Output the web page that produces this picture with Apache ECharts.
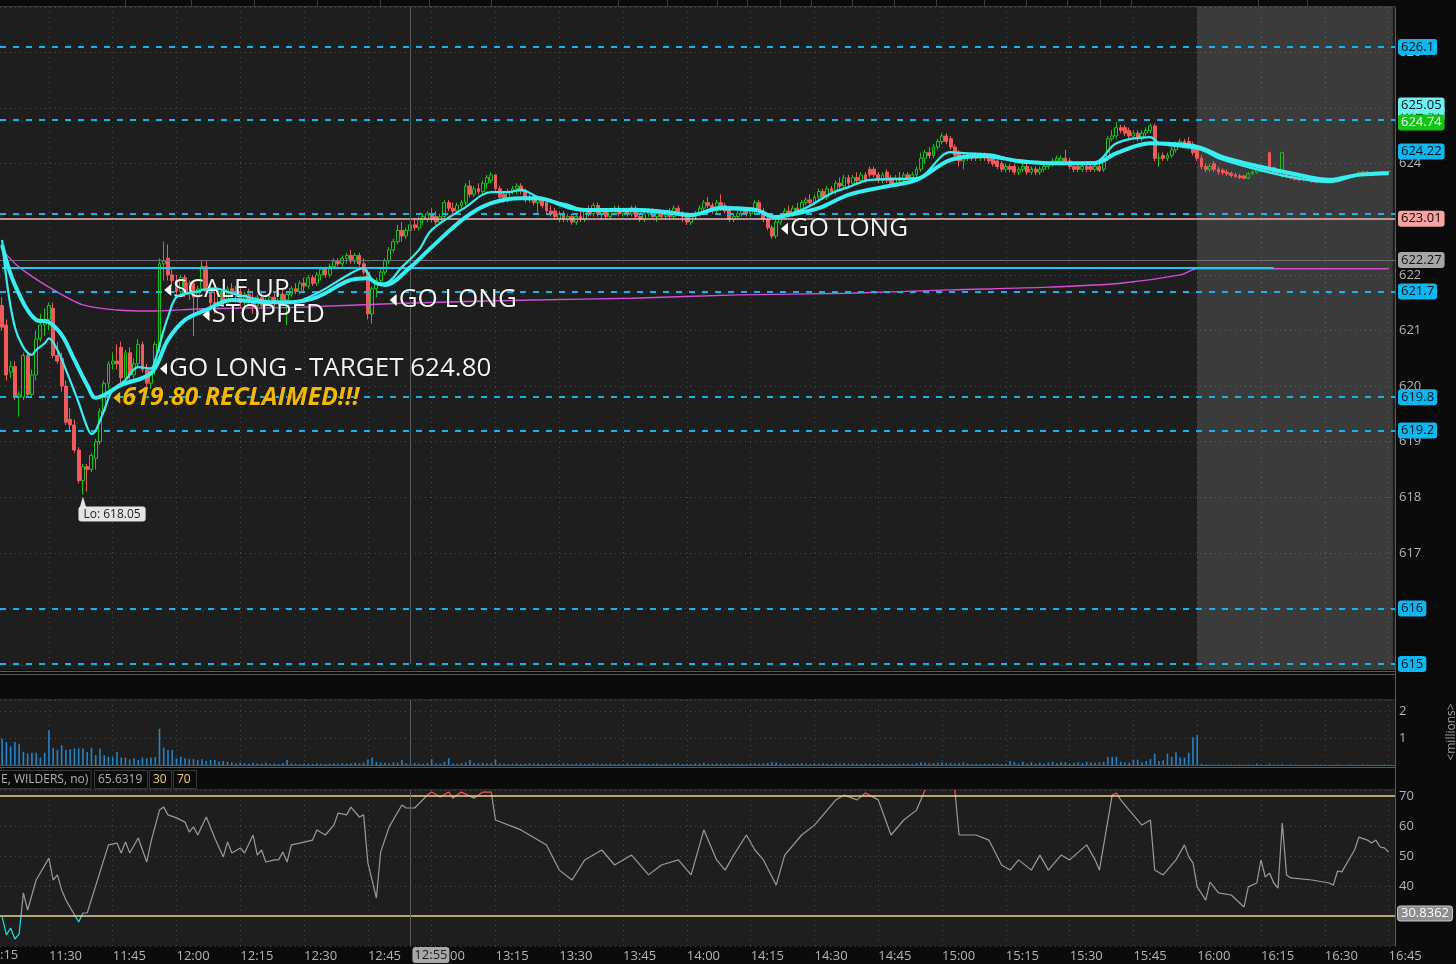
<!DOCTYPE html>
<html><head><meta charset="utf-8">
<script src="https://cdn.jsdelivr.net/npm/echarts@6/dist/echarts.min.js"></script>
<style>html,body{margin:0;padding:0;background:#0b0b0b;}#c{width:1456px;height:964px;}</style>
</head><body><div id="c"></div>
<script>
// ---------- DATA ----------
const categories = [];
for (let m = 11 * 60 + 19; m <= 16 * 60 + 46; m++) {
  categories.push(String(Math.floor(m / 60)).padStart(2, '0') + ':' + String(m % 60).padStart(2, '0'));
}
const opens = [
621.45,621.1,620.25,620.35,619.8,619.8,620.55,619.85,620.2,620.85,
621.1,621.2,621.4,620.55,620.5,620.0,619.4,619.3,618.85,618.3,
618.55,618.5,618.7,619.0,619.55,620.05,620.4,620.45,620.7,620.15,
620.6,620.2,620.4,620.75,620.3,620.05,620.3,620.7,622.2,622.3,
622.0,621.9,621.7,621.95,621.65,621.85,621.6,621.75,622.15,621.7,
621.5,621.45,621.7,621.5,621.75,621.65,621.7,621.5,621.65,621.55,
621.45,621.6,621.45,621.55,621.6,621.5,621.65,621.55,621.65,621.75,
621.7,621.85,621.8,621.95,621.85,622.0,622.1,622.0,622.15,622.25,
622.2,622.3,622.35,622.25,622.35,622.2,622.05,621.3,621.75,621.9,
622.05,622.25,622.45,622.6,622.8,622.7,622.8,622.9,622.85,623.0,
623.0,623.1,623.05,622.95,623.05,623.3,623.2,623.15,623.25,623.3,
623.6,623.45,623.55,623.5,623.65,623.7,623.8,623.55,623.45,623.35,
623.5,623.55,623.6,623.5,623.35,623.4,623.3,623.35,623.3,623.15,
623.15,623.0,623.1,623.0,623.05,622.95,623.05,623.0,623.15,623.1,
623.25,623.1,623.15,623.05,623.15,623.2,623.1,623.15,623.1,623.2,
623.05,623.0,623.1,623.15,623.05,623.1,623.05,623.1,623.05,623.2,
623.1,623.05,622.95,623.05,623.1,623.2,623.3,623.25,623.15,623.3,
623.25,623.2,623.0,623.05,623.1,623.15,623.1,623.15,623.3,623.15,
623.0,622.85,622.7,622.95,623.05,623.15,623.1,623.2,623.15,623.3,
623.35,623.3,623.4,623.5,623.4,623.55,623.5,623.65,623.6,623.75,
623.65,623.75,623.7,623.8,623.9,623.9,623.8,623.7,623.85,623.75,
623.65,623.75,623.7,623.8,623.75,623.8,623.9,624.1,624.2,624.15,
624.3,624.4,624.5,624.45,624.3,624.2,624.05,624.1,624.15,624.15,
624.1,624.15,624.1,624.1,624.05,624.0,623.9,623.95,623.95,623.85,
623.9,623.95,623.85,623.9,623.85,623.9,623.95,624.0,624.05,624.05,
624.1,624.05,623.95,623.95,623.9,623.95,623.95,623.9,623.95,623.9,
624.1,624.45,624.5,624.65,624.65,624.6,624.5,624.55,624.45,624.55,
624.6,624.68,624.1,624.15,624.1,624.15,624.25,624.35,624.4,624.4,
624.35,624.25,624.1,623.95,623.9,624.0,623.9,623.88,623.85,623.83,
623.8,623.78,623.78,623.74,623.82,623.85,623.9,623.92,624.2,623.93,
623.88,623.78,623.82,623.78,623.76,623.74,623.72,623.72,623.72,623.7,
623.68,623.69,623.7,623.7,623.68,623.72,623.73,623.75,623.77,623.8,
623.85,623.85,623.84,623.84,623.85,623.85,623.86];
const highs = [
621.6,621.2,620.45,620.45,619.9,620.6,620.6,620.3,621.0,621.3,
621.4,621.5,621.5,620.8,620.6,620.1,619.6,619.4,618.9,618.6,
618.6,618.8,619.05,619.6,620.1,620.45,620.6,620.75,620.8,620.65,
620.7,620.5,620.85,620.8,620.4,620.35,620.8,622.3,622.6,622.55,
622.1,622.0,622.0,622.0,621.9,621.9,621.8,622.25,622.25,621.85,
621.7,621.75,621.8,621.8,621.85,621.8,621.8,621.7,621.75,621.7,
621.65,621.7,621.6,621.7,621.7,621.7,621.75,621.7,621.8,621.85,
621.9,621.95,622.0,622.0,622.05,622.15,622.15,622.2,622.3,622.3,
622.35,622.4,622.45,622.4,622.4,622.3,622.1,621.8,621.95,622.1,
622.3,622.5,622.65,622.9,622.95,622.85,622.95,623.0,623.05,623.1,
623.15,623.2,623.15,623.1,623.35,623.35,623.3,623.3,623.35,623.65,
623.7,623.6,623.65,623.7,623.8,623.85,623.8,623.6,623.5,623.55,
623.6,623.65,623.65,623.55,623.45,623.45,623.4,623.4,623.35,623.25,
623.2,623.15,623.15,623.1,623.1,623.1,623.15,623.2,623.25,623.3,
623.3,623.2,623.2,623.2,623.25,623.25,623.2,623.2,623.25,623.25,
623.1,623.15,623.2,623.2,623.15,623.15,623.15,623.2,623.25,623.25,
623.15,623.1,623.1,623.15,623.25,623.35,623.4,623.3,623.35,623.45,
623.3,623.25,623.1,623.15,623.2,623.2,623.2,623.35,623.35,623.2,
623.05,622.9,623.0,623.1,623.2,623.25,623.25,623.3,623.35,623.4,
623.45,623.45,623.55,623.55,623.6,623.6,623.7,623.75,623.8,623.8,
623.8,623.85,623.85,623.85,623.95,623.95,623.85,623.85,623.9,623.8,
623.8,623.85,623.85,623.85,623.85,623.95,624.2,624.25,624.3,624.35,
624.45,624.55,624.55,624.5,624.35,624.25,624.2,624.2,624.2,624.2,
624.2,624.2,624.15,624.15,624.1,624.05,624.0,624.0,624.0,623.95,
624.0,624.0,623.95,623.95,623.95,624.0,624.05,624.1,624.15,624.15,
624.25,624.1,624.0,624.0,624.0,624.0,624.0,624.0,624.0,624.15,
624.5,624.6,624.75,624.7,624.7,624.65,624.6,624.6,624.6,624.65,
624.72,624.72,624.2,624.2,624.2,624.3,624.4,624.45,624.45,624.48,
624.4,624.3,624.15,624.0,624.0,624.05,623.95,623.92,623.9,623.86,
623.84,623.82,623.8,623.85,623.88,623.92,623.95,623.96,624.22,623.95,
623.9,624.22,623.86,623.8,623.78,623.76,623.74,623.74,623.74,623.72,
623.72,623.72,623.73,623.72,623.74,623.75,623.77,623.78,623.8,623.86,
623.87,623.87,623.86,623.86,623.86,623.87,623.87];
const lows = [
621.0,620.1,620.15,619.75,619.45,619.75,619.8,619.8,620.1,620.8,
620.9,621.0,620.5,620.4,619.9,619.3,619.2,618.8,618.25,618.05,
618.1,618.45,618.5,618.95,619.5,619.95,620.3,620.3,620.05,620.1,
620.1,620.1,620.35,620.25,619.95,619.95,620.2,620.6,621.9,621.9,
621.8,621.6,621.65,621.6,621.55,620.9,621.3,621.7,621.6,621.4,
621.3,621.4,621.45,621.45,621.6,621.5,621.4,621.35,621.45,621.3,
621.4,621.4,621.25,621.45,621.4,621.45,621.5,621.1,621.6,621.65,
621.65,621.7,621.75,621.8,621.8,621.9,621.95,621.95,622.1,622.15,
622.15,622.2,622.2,622.2,622.15,622.0,621.2,621.12,621.6,621.85,
622.0,622.2,622.4,622.55,622.6,622.65,622.75,622.8,622.8,622.9,
622.95,622.95,622.9,622.9,623.0,623.15,623.1,623.1,623.2,623.25,
623.4,623.4,623.45,623.45,623.55,623.65,623.5,623.35,623.3,623.3,
623.45,623.45,623.45,623.3,623.3,623.25,623.1,623.2,623.1,623.05,
623.0,622.95,622.95,622.95,622.9,622.9,622.95,622.95,623.05,623.05,
623.05,623.0,623.0,623.0,623.1,623.05,623.05,623.05,623.05,623.0,
622.95,622.95,623.05,623.0,622.95,623.0,623.0,623.0,623.0,623.05,
622.95,622.9,622.9,623.0,623.05,623.15,623.2,623.1,623.1,623.15,
623.1,622.95,622.95,623.0,623.05,623.05,623.05,623.1,623.1,622.95,
622.8,622.65,622.65,622.9,623.0,623.05,623.05,623.1,623.1,623.25,
623.25,623.25,623.35,623.35,623.35,623.45,623.45,623.55,623.55,623.6,
623.6,623.65,623.65,623.65,623.75,623.75,623.65,623.65,623.65,623.6,
623.6,623.65,623.65,623.7,623.7,623.75,623.85,624.0,624.1,624.1,
624.25,624.35,624.35,624.25,624.1,623.95,623.9,624.05,624.05,624.05,
624.05,624.05,624.0,623.95,623.9,623.85,623.85,623.85,623.8,623.8,
623.85,623.8,623.8,623.8,623.8,623.85,623.9,623.95,624.0,624.0,
624.0,623.9,623.85,623.85,623.85,623.85,623.85,623.85,623.85,623.85,
624.05,624.4,624.45,624.55,624.5,624.45,624.45,624.4,624.4,624.5,
624.55,624.05,623.95,624.05,624.05,624.1,624.2,624.3,624.3,624.3,
624.15,624.05,623.9,623.85,623.85,623.85,623.8,623.8,623.78,623.75,
623.74,623.72,623.72,623.72,623.8,623.82,623.85,623.87,623.9,623.82,
623.8,623.75,623.74,623.72,623.7,623.68,623.68,623.69,623.66,623.65,
623.66,623.67,623.68,623.65,623.66,623.7,623.72,623.74,623.75,623.78,
623.82,623.82,623.82,623.83,623.83,623.84,623.84];
const closes = [
621.06,620.2,620.35,619.8,619.85,620.55,619.85,620.2,620.85,621.1,
621.2,621.45,620.55,620.45,620.0,619.35,619.3,618.85,618.3,618.55,
618.5,618.75,619.0,619.55,620.05,620.4,620.45,620.4,620.15,620.6,
620.2,620.4,620.75,620.3,620.05,620.3,620.75,622.2,622.25,622.0,
621.9,621.7,621.95,621.65,621.85,621.6,621.75,622.15,621.7,621.5,
621.45,621.7,621.5,621.75,621.65,621.7,621.5,621.65,621.55,621.45,
621.6,621.45,621.55,621.6,621.5,621.65,621.55,621.65,621.75,621.7,
621.85,621.8,621.95,621.85,622.0,622.1,622.0,622.15,622.25,622.2,
622.3,622.35,622.25,622.35,622.2,622.05,621.3,621.75,621.9,622.05,
622.25,622.45,622.6,622.8,622.7,622.8,622.9,622.85,623.0,623.05,
623.1,623.0,622.95,623.05,623.3,623.2,623.15,623.25,623.3,623.6,
623.45,623.55,623.5,623.65,623.75,623.8,623.55,623.4,623.35,623.5,
623.55,623.6,623.5,623.35,623.4,623.3,623.35,623.25,623.15,623.1,
623.05,623.1,623.0,623.05,622.95,623.05,623.0,623.15,623.1,623.25,
623.1,623.15,623.05,623.15,623.2,623.1,623.15,623.1,623.2,623.05,
623.0,623.1,623.15,623.05,623.1,623.05,623.1,623.05,623.2,623.1,
623.05,622.95,623.05,623.1,623.2,623.3,623.25,623.15,623.3,623.2,
623.15,623.0,623.05,623.1,623.15,623.1,623.15,623.3,623.15,623.0,
622.85,622.7,622.95,623.05,623.15,623.1,623.2,623.15,623.3,623.35,
623.3,623.4,623.5,623.4,623.55,623.5,623.65,623.6,623.75,623.65,
623.75,623.7,623.8,623.7,623.8,623.8,623.7,623.8,623.7,623.65,
623.75,623.7,623.8,623.75,623.8,623.9,624.1,624.2,624.15,624.3,
624.4,624.5,624.4,624.3,624.15,624.05,624.1,624.15,624.1,624.1,
624.15,624.1,624.05,624.0,623.95,623.9,623.95,623.9,623.85,623.9,
623.95,623.85,623.9,623.85,623.9,623.95,624.0,624.05,624.1,624.1,
624.05,623.95,623.9,623.9,623.95,623.9,623.9,623.95,623.88,624.1,
624.45,624.5,624.65,624.6,624.55,624.5,624.55,624.45,624.55,624.6,
624.68,624.1,624.1,624.1,624.15,624.25,624.35,624.4,624.35,624.35,
624.2,624.1,623.95,623.9,623.95,623.9,623.85,623.84,623.82,623.79,
623.77,623.75,623.74,623.82,623.85,623.9,623.92,623.9,623.93,623.85,
623.84,624.2,623.78,623.75,623.72,623.71,623.72,623.72,623.68,623.67,
623.7,623.71,623.72,623.67,623.72,623.73,623.76,623.77,623.79,623.85,
623.84,623.83,623.84,623.85,623.85,623.86,623.86];
const volumes = [
0.99,0.86,0.70,0.86,0.78,0.49,0.43,0.46,0.46,0.28,
0.46,1.30,0.65,0.56,0.74,0.56,0.59,0.62,0.62,0.62,
0.49,0.65,0.37,0.62,0.37,0.31,0.31,0.49,0.28,0.28,
0.21,0.25,0.19,0.28,0.25,0.28,0.30,1.36,0.65,0.56,
0.56,0.25,0.31,0.25,0.22,0.22,0.19,0.22,0.16,0.19,
0.19,0.13,0.15,0.12,0.10,0.06,0.09,0.07,0.05,0.08,
0.06,0.05,0.08,0.05,0.06,0.04,0.07,0.19,0.06,0.05,
0.04,0.06,0.05,0.04,0.07,0.05,0.04,0.05,0.06,0.05,
0.07,0.05,0.06,0.08,0.06,0.09,0.21,0.28,0.12,0.09,
0.08,0.07,0.10,0.09,0.19,0.07,0.06,0.08,0.06,0.05,
0.07,0.22,0.06,0.05,0.12,0.25,0.06,0.05,0.07,0.10,
0.19,0.07,0.06,0.08,0.06,0.07,0.21,0.06,0.05,0.04,
0.05,0.06,0.04,0.05,0.07,0.05,0.06,0.04,0.05,0.06,
0.05,0.04,0.06,0.05,0.04,0.05,0.06,0.04,0.05,0.07,
0.05,0.04,0.05,0.06,0.04,0.05,0.04,0.06,0.05,0.04,
0.06,0.05,0.04,0.05,0.06,0.04,0.05,0.04,0.07,0.05,
0.04,0.05,0.04,0.06,0.05,0.08,0.05,0.04,0.06,0.05,
0.04,0.06,0.05,0.04,0.05,0.04,0.06,0.07,0.05,0.06,
0.08,0.10,0.09,0.06,0.05,0.04,0.06,0.05,0.07,0.05,
0.04,0.06,0.05,0.07,0.05,0.04,0.06,0.05,0.07,0.05,
0.06,0.05,0.04,0.06,0.05,0.04,0.05,0.06,0.04,0.05,
0.04,0.05,0.06,0.05,0.04,0.07,0.10,0.08,0.06,0.07,
0.08,0.10,0.07,0.08,0.06,0.07,0.09,0.05,0.04,0.05,
0.04,0.05,0.04,0.06,0.05,0.04,0.05,0.15,0.12,0.05,
0.12,0.06,0.10,0.05,0.08,0.06,0.10,0.12,0.07,0.10,
0.11,0.06,0.08,0.10,0.07,0.12,0.09,0.08,0.10,0.12,
0.31,0.31,0.31,0.12,0.10,0.08,0.20,0.20,0.10,0.15,
0.22,0.43,0.15,0.18,0.43,0.31,0.49,0.28,0.28,0.46,
1.04,1.13,0.04,0.02,0.02,0.01,0.02,0.01,0.01,0.02,
0.01,0.02,0.01,0.02,0.01,0.05,0.02,0.01,0.05,0.02,
0.01,0.03,0.01,0.02,0.01,0.01,0.01,0.01,0.01,0.02,
0.01,0.01,0.01,0.01,0.02,0.01,0.01,0.02,0.01,0.01,
0.02,0.01,0.01,0.01,0.01,0.02,0.01];

const fastTimes = ['11:19','11:22','11:26','11:27','11:29','11:30','11:32','11:34','11:37','11:39','11:40','11:41','11:43','11:45','11:48','11:51','11:54','11:55','11:57','11:58','12:00','12:04','12:09','12:13','12:18','12:23','12:27','12:33','12:41','12:44','12:45','12:47','12:49','12:53','12:57','13:00','13:08','13:14','13:18','13:21','13:25','13:32','13:36','13:47','13:55','14:01','14:08','14:16','14:20','14:27','14:34','14:38','14:43','14:54','15:02','15:05','15:12','15:18','15:25','15:36','15:41','15:49','15:51','15:57','16:01','16:05','16:12','16:22','16:31','16:38','16:45'];
const fastValues = [622.63,621.06,620.56,620.65,620.77,620.86,620.65,620.29,619.70,619.26,619.14,619.20,619.57,619.93,620.11,620.34,620.32,620.47,621.01,621.24,621.60,621.69,621.76,621.67,621.58,621.51,621.51,621.67,622.03,622.12,622.03,621.85,621.85,622.14,622.45,622.81,623.22,623.49,623.49,623.53,623.40,623.26,623.17,623.19,623.15,623.08,623.22,623.19,623.04,623.17,623.47,623.58,623.71,623.74,624.21,624.19,624.16,624.03,624.01,624.03,624.37,624.48,624.37,624.30,624.25,624.10,623.94,623.76,623.67,623.80,623.83];
const slowTimes = ['11:19','11:22','11:27','11:30','11:33','11:36','11:39','11:41','11:43','11:47','11:54','11:58','12:02','12:07','12:13','12:21','12:27','12:33','12:41','12:45','12:47','12:49','12:55','13:00','13:08','13:14','13:21','13:25','13:32','13:36','13:47','13:55','14:01','14:08','14:16','14:21','14:24','14:31','14:38','14:46','14:54','15:02','15:10','15:18','15:25','15:36','15:41','15:49','15:57','16:01','16:06','16:14','16:22','16:31','16:38','16:45'];
const slowValues = [622.54,621.82,621.19,621.15,620.92,620.47,620.02,619.79,619.84,620.02,620.23,620.83,621.19,621.37,621.55,621.51,621.51,621.60,621.91,621.94,621.85,621.82,622.14,622.50,623.04,623.29,623.38,623.38,623.22,623.17,623.17,623.13,623.08,623.20,623.17,623.04,623.08,623.20,623.44,623.58,623.71,624.07,624.14,624.05,624.01,624.01,624.19,624.37,624.34,624.28,624.12,623.96,623.83,623.71,623.80,623.83];
const vwapTimes = ['11:19','11:23','11:30','11:38','11:46','11:54','12:06','12:29','12:53','13:24','13:47','14:12','14:38','15:02','15:25','15:42','15:56','16:00','16:45'];
const vwapValues = [622.45,622.14,621.78,621.46,621.37,621.35,621.39,621.42,621.49,621.55,621.58,621.64,621.67,621.73,621.78,621.85,622.00,622.11,622.11];

const rsiTimes = ['11:19','11:20','11:21','11:22','11:23','11:24','11:25','11:27','11:30','11:31','11:32','11:33','11:34','11:37','11:38','11:39','11:44','11:46','11:47','11:48','11:49','11:51','11:53','11:54','11:56','11:57','11:58','12:00','12:02','12:03','12:04','12:05','12:07','12:09','12:11','12:12','12:13','12:15','12:16','12:18','12:19','12:20','12:21','12:23','12:24','12:25','12:26','12:27','12:29','12:32','12:33','12:35','12:37','12:38','12:40','12:41','12:43','12:44','12:45','12:47','12:48','12:50','12:53','12:54','12:56','12:59','13:00','13:02','13:04','13:05','13:07','13:10','13:12','13:14','13:15','13:21','13:27','13:30','13:33','13:36','13:40','13:43','13:47','13:51','13:54','13:58','14:01','14:04','14:07','14:09','14:11','14:14','14:16','14:18','14:21','14:23','14:27','14:30','14:33','14:35','14:37','14:40','14:42','14:45','14:48','14:51','14:54','14:56','15:00','15:03','15:04','15:08','15:11','15:14','15:16','15:18','15:21','15:23','15:25','15:28','15:30','15:34','15:36','15:37','15:40','15:41','15:42','15:44','15:47','15:49','15:50','15:52','15:55','15:57','15:58','15:59','16:00','16:02','16:03','16:05','16:08','16:11','16:12','16:14','16:15','16:16','16:17','16:18','16:19','16:20','16:21','16:22','16:27','16:31','16:32','16:33','16:34','16:37','16:38','16:40','16:41','16:42','16:43','16:44','16:45'];
const rsiValues = [29.7,23.7,26.0,22.3,24.0,37.7,32.0,42.0,49.3,42.0,43.7,38.7,35.3,28.0,31.0,31.0,53.7,54.3,51.0,54.7,51.0,56.0,48.0,54.7,65.3,66.3,63.7,62.7,61.3,58.0,59.7,57.0,63.0,56.0,49.7,54.7,51.0,52.7,51.0,57.0,50.3,52.0,48.0,48.7,48.7,51.3,48.0,53.7,54.3,55.3,58.7,57.0,60.3,64.3,63.7,66.3,63.0,63.7,47.7,36.0,51.3,59.7,67.0,66.0,66.0,70.3,71.3,69.7,71.3,69.3,71.3,69.3,71.3,71.3,62.0,58.7,53.7,45.3,42.0,48.7,52.0,47.0,50.3,43.7,47.0,48.7,43.7,58.7,48.7,45.3,50.3,57.0,52.0,48.7,40.3,50.3,57.0,60.3,65.3,68.7,70.3,68.7,71.0,68.7,57.0,62.0,65.3,72.0,74.0,72.0,57.0,57.0,55.3,47.0,45.3,48.7,45.3,50.3,45.3,50.3,48.7,53.7,48.7,45.3,70.3,71.0,68.7,65.3,60.3,62.0,45.3,43.7,48.7,53.7,49.7,47.7,39.7,35.3,41.3,37.7,37.0,33.0,39.7,41.0,48.7,43.0,44.3,41.0,39.3,61.0,43.7,42.7,42.0,41.0,40.3,45.0,44.7,52.0,56.3,55.3,54.3,55.3,53.0,52.7,51.3];
const rsiLast = 30.8362;

const priceTicks = {min: 615, max: 626.82, step: 1};
const dashedLevels = [626.1, 624.8, 623.1, 621.7, 619.8, 619.2, 616, 615];
const dashedLabeled = [true, false, false, true, true, true, true, true];
const pinkLevel = 623.01, grayLevel = 622.27, cyanLevel = 622.12;
const cyanLevelEnd = '16:18';
const tagValues = [624.91, 625.05, 624.74, 624.22];
const noteTimes = ['14:22', '12:50', '11:57', '12:06', '11:56', '11:45'];
const notePrices = [622.83, 621.55, 621.73, 621.28, 620.31, 619.79];
const noteTexts = ['GO LONG', 'GO LONG', 'SCALE UP', 'STOPPED', 'GO LONG - TARGET 624.80', '619.80 RECLAIMED!!!'];
const lowTime = '11:38', lowPrice = 618.05;
const crossTime = '12:55';
const afterHoursStart = '16:00', axisEnd = '16:46';
const rsiHeader = ['E, WILDERS, no)', '65.6319', '30', '70'];

// ---------- CHART ----------
const FONT = '"Open Sans", "Noto Sans", sans-serif';
const chart = echarts.init(document.getElementById('c'), null, {renderer: 'canvas'});
const candleData = opens.map((o, i) => [o, closes[i], lows[i], highs[i]]);
const pair = (ts, vs) => ts.map((t, i) => [t, vs[i]]);
const qFn = (i, v) => /:(00|15|30|45)$/.test(v);
const GRID_RIGHT = 61;
const CLEAR = 'rgba(0,0,0,0)';

function xAxisCfg(g, showLabel) {
  return {
    type: 'category', gridIndex: g, data: categories, boundaryGap: true,
    axisLine: {show: false}, axisTick: {show: false},
    axisLabel: showLabel ? {show: true, interval: qFn, color: '#b4b4b4', fontSize: 13, fontFamily: FONT, align: 'left', margin: 4} : {show: false},
    splitLine: {show: true, interval: qFn, alignWithLabel: true, lineStyle: {color: '#4a4a4a', type: [1, 4], width: 1}}
  };
}
function yAxisCfg(g, min, max, interval) {
  return {
    type: 'value', gridIndex: g, position: 'right', min: min, max: max, interval: interval, scale: true,
    axisLine: {show: true, lineStyle: {color: '#5a5a5a'}}, axisTick: {show: false},
    axisLabel: {color: '#b4b4b4', fontSize: 13, fontFamily: FONT, margin: 4, showMaxLabel: false, showMinLabel: g === 0},
    splitLine: {show: true, lineStyle: {color: '#4a4a4a', type: [1, 4], width: 1}}
  };
}
const tagLabel = (bg, fg) => ({show: true, position: 'end', distance: 3, formatter: '{b}', backgroundColor: bg, color: fg,
  padding: [2, 3, 1, 3], borderRadius: 3, fontSize: 13, fontFamily: FONT});

const mlData = [];
dashedLevels.forEach((v, i) => mlData.push({name: String(v), yAxis: v,
  lineStyle: {type: [6, 7], width: 2, color: '#12b6ee'},
  label: dashedLabeled[i] ? tagLabel('#12b6ee', '#00121c') : {show: false}}));
mlData.push({name: String(pinkLevel), yAxis: pinkLevel, lineStyle: {type: 'solid', width: 1.5, color: '#f0b4b4'}, label: tagLabel('#f5a4a4', '#1a0000')});
mlData.push({name: String(grayLevel), yAxis: grayLevel, lineStyle: {type: 'solid', width: 1, color: '#6e6e6e'}, label: tagLabel('#a6a6a6', '#111')});
const tagStyles = [['#7ef4f4', '#00181c'], ['#6ff0f0', '#00181c'], ['#14c414', '#ffffff'], ['#12b6ee', '#00121c']];
tagValues.forEach((v, i) => mlData.push({name: String(v), yAxis: v, lineStyle: {color: CLEAR, width: 1, type: 'solid'},
  label: tagLabel(tagStyles[i][0], tagStyles[i][1])}));
mlData.push([{coord: [categories[0], cyanLevel], lineStyle: {type: 'solid', width: 2, color: '#1ec8f0'}, label: {show: false}},
             {coord: [cyanLevelEnd, cyanLevel]}]);
mlData.push({xAxis: crossTime, lineStyle: {type: 'solid', width: 1, color: '#5c5c5c'}, label: {show: false}});

const noteData = noteTimes.map((t, i) => {
  const special = i === 5;
  return {
    coord: [t, notePrices[i]],
    symbol: 'triangle', symbolRotate: 90, symbolSize: [12, 7], symbolOffset: [4, 0],
    itemStyle: {color: special ? '#f2b705' : '#ffffff'},
    label: {show: true, position: 'right', distance: 2, formatter: noteTexts[i],
      color: special ? '#f2b705' : '#f4f4f4', fontSize: special ? 25 : 26,
      fontWeight: special ? 'bold' : 'normal', fontStyle: special ? 'italic' : 'normal',
      fontFamily: FONT, textBorderColor: 'rgba(0,0,0,0.55)', textBorderWidth: 1}
  };
});
noteData.push({coord: [lowTime, lowPrice], symbol: 'triangle', symbolSize: [7, 12], symbolOffset: [0, 8],
  itemStyle: {color: '#e4e4e4'},
  label: {show: true, position: [-1, 10], formatter: 'Lo: ' + lowPrice.toFixed(2), color: '#222', backgroundColor: '#e4e4e4',
    padding: [2, 5, 1, 5], borderRadius: 3, fontSize: 12, fontFamily: FONT}});

const series = [
  {type: 'candlestick', name: 'price', xAxisIndex: 0, yAxisIndex: 0, data: candleData, barWidth: 3.4, z: 3,
   itemStyle: {color: CLEAR, color0: '#f05a5a', borderColor: '#17c417', borderColor0: '#f05a5a', borderWidth: 1},
   markLine: {silent: true, symbol: ['none', 'none'], animation: false, data: mlData}},
  {type: 'line', name: 'ah', xAxisIndex: 0, yAxisIndex: 0, data: [], z: 1,
   markArea: {silent: true, itemStyle: {color: 'rgba(255,255,255,0.13)'}, data: [[{xAxis: afterHoursStart}, {xAxis: axisEnd}]]}},
  {type: 'line', name: 'slow', xAxisIndex: 0, yAxisIndex: 0, data: pair(slowTimes, slowValues), smooth: 0.35, showSymbol: false, z: 5,
   lineStyle: {color: '#38eef2', width: 4}},
  {type: 'line', name: 'fast', xAxisIndex: 0, yAxisIndex: 0, data: pair(fastTimes, fastValues), smooth: 0.35, showSymbol: false, z: 6,
   lineStyle: {color: '#38eef2', width: 2.2}},
  {type: 'line', name: 'vwap', xAxisIndex: 0, yAxisIndex: 0, data: pair(vwapTimes, vwapValues), smooth: 0.3, showSymbol: false, z: 4,
   lineStyle: {color: '#d24fd6', width: 1.4}},
  {type: 'line', name: 'notes', xAxisIndex: 0, yAxisIndex: 0, data: [], z: 10,
   markPoint: {silent: true, animation: false, data: noteData}},
  {type: 'bar', name: 'vol', xAxisIndex: 1, yAxisIndex: 1, data: volumes, barWidth: 1.6, itemStyle: {color: '#2484c6'},
   markLine: {silent: true, symbol: ['none', 'none'], data: [{xAxis: crossTime, lineStyle: {type: 'solid', width: 1, color: '#5c5c5c'}, label: {show: false}}]}},
  {type: 'line', name: 'rsi', xAxisIndex: 2, yAxisIndex: 2, data: pair(rsiTimes, rsiValues), showSymbol: false, z: 4,
   lineStyle: {width: 1.2},
   markLine: {silent: true, symbol: ['none', 'none'], data: [
     {yAxis: 70, lineStyle: {type: 'solid', width: 1.6, color: '#e8d48c'}, label: {show: false}},
     {yAxis: 30, lineStyle: {type: 'solid', width: 1.6, color: '#e8d48c'}, label: {show: false}},
     {name: String(rsiLast), yAxis: rsiLast, lineStyle: {color: CLEAR, width: 1, type: 'solid'},
      label: {show: true, position: 'end', distance: 3, formatter: '{b}', backgroundColor: '#8e8e8e', color: '#ffffff',
        borderColor: '#c8c8c8', borderWidth: 1, padding: [1, 3, 0, 3], borderRadius: 3, fontSize: 13, fontFamily: FONT}},
     {xAxis: crossTime, lineStyle: {type: 'solid', width: 1, color: '#5c5c5c'}, label: {show: false}}
   ]}}
];

const option = {
  backgroundColor: '#0b0b0b',
  animation: false,
  textStyle: {fontFamily: FONT},
  grid: [
    {left: 0, right: GRID_RIGHT, top: 7, height: 657, show: true, backgroundColor: '#1e1e1e', borderWidth: 0},
    {left: 0, right: GRID_RIGHT, top: 700, height: 65, show: true, backgroundColor: '#1e1e1e', borderWidth: 0},
    {left: 0, right: GRID_RIGHT, top: 790, height: 156, show: true, backgroundColor: '#1e1e1e', borderWidth: 0}
  ],
  xAxis: [xAxisCfg(0, false), xAxisCfg(1, false), xAxisCfg(2, true)],
  yAxis: [yAxisCfg(0, priceTicks.min, priceTicks.max, priceTicks.step), yAxisCfg(1, 0, 2.44, 1), yAxisCfg(2, 20, 72, 10)],
  visualMap: [{show: false, type: 'piecewise', seriesIndex: 7, dimension: 1,
    pieces: [{lt: 30, color: '#12e2f2'}, {gte: 30, lte: 70, color: '#9a9a9a'}, {gt: 70, color: '#ff4f4f'}]}],
  series: series
};
chart.setOption(option);

// ---------- frame decorations (positions taken from the chart's own scales) ----------
const px = t => chart.convertToPixel({xAxisIndex: 0}, t);
const py = v => chart.convertToPixel({yAxisIndex: 0}, v);
const W = 1456, RX = W - GRID_RIGHT;
const xAH = px(afterHoursStart);
const yB = py(priceTicks.min);
const bw = px(categories[12]) - px(categories[11]);
const xCross = px(crossTime);
const xFirstLabel = px('11:30') - 15 * bw;
const hl = (y, color) => ({type: 'line', z: 50, shape: {x1: 0, y1: y, x2: RX, y2: y}, style: {stroke: color, lineWidth: 1}});
const HF = '12px ' + FONT;
const gfx = [
  {type: 'rect', z: 0, shape: {x: 0, y: yB, width: xAH, height: 670 - yB}, style: {fill: '#1e1e1e'}},
  {type: 'rect', z: 0, shape: {x: xAH, y: yB, width: RX - xAH, height: 670 - yB}, style: {fill: '#3b3b3b'}},
  hl(6.5, '#3c3c3c'),
  hl(671.5, '#5a5a5a'), hl(674.5, '#5a5a5a'), hl(699.5, '#2c2c2c'),
  {type: 'rect', z: 49, shape: {x: 0, y: 765, width: RX + 2, height: 25}, style: {fill: '#0b0b0b'}},
  hl(765.5, '#5a5a5a'), hl(767.5, '#5a5a5a'), hl(789.5, '#2c2c2c'),
  {type: 'line', z: 50, shape: {x1: RX + 0.5, y1: 7, x2: RX + 0.5, y2: 946}, style: {stroke: '#5a5a5a', lineWidth: 1}},
  {type: 'rect', z: 51, shape: {x: -2, y: 770.5, width: 93, height: 18}, style: {fill: '#0b0b0b', stroke: '#3a3a3a', lineWidth: 1}},
  {type: 'rect', z: 51, shape: {x: 94.5, y: 770.5, width: 53, height: 18}, style: {fill: '#0b0b0b', stroke: '#3a3a3a', lineWidth: 1}},
  {type: 'rect', z: 51, shape: {x: 149.5, y: 770.5, width: 22, height: 18}, style: {fill: '#0b0b0b', stroke: '#3a3a3a', lineWidth: 1}},
  {type: 'rect', z: 51, shape: {x: 173.5, y: 770.5, width: 23, height: 18}, style: {fill: '#0b0b0b', stroke: '#3a3a3a', lineWidth: 1}},
  {type: 'text', z: 52, x: 1, y: 779.5, style: {text: rsiHeader[0], fill: '#b0b0b0', font: HF, textVerticalAlign: 'middle'}},
  {type: 'text', z: 52, x: 98, y: 779.5, style: {text: rsiHeader[1], fill: '#b0b0b0', font: HF, textVerticalAlign: 'middle'}},
  {type: 'text', z: 52, x: 153, y: 779.5, style: {text: rsiHeader[2], fill: '#efd27a', font: HF, textVerticalAlign: 'middle'}},
  {type: 'text', z: 52, x: 177, y: 779.5, style: {text: rsiHeader[3], fill: '#efd27a', font: HF, textVerticalAlign: 'middle'}},
  {type: 'text', z: 52, x: xFirstLabel, y: 955.5, style: {text: '11:15', fill: '#b4b4b4', font: '13px ' + FONT, textVerticalAlign: 'middle'}},
  {type: 'rect', z: 52, shape: {x: xCross + 2, y: 947, width: 37, height: 16, r: 3}, style: {fill: '#a8a8a8'}},
  {type: 'text', z: 53, x: xCross + 20.5, y: 955.5, style: {text: crossTime, fill: '#1c1c1c', font: '13px ' + FONT, textAlign: 'center', textVerticalAlign: 'middle'}},
  {type: 'text', z: 52, x: 1452, y: 732, rotation: Math.PI / 2, style: {text: '<millions>', fill: '#9a9a9a', font: '12px ' + FONT, textAlign: 'center', textVerticalAlign: 'middle'}}
];
[125, 191, 254, 317, 380, 429, 491, 618, 667, 717, 747, 780, 811, 852, 894, 936, 984, 1026, 1067, 1100, 1131, 1258, 1307].forEach(x => {
  gfx.push({type: 'line', z: 50, shape: {x1: x + 0.5, y1: 0, x2: x + 0.5, y2: 6}, style: {stroke: '#3c3c3c', lineWidth: 1}});
});
chart.setOption({graphic: gfx});
</script></body></html>
